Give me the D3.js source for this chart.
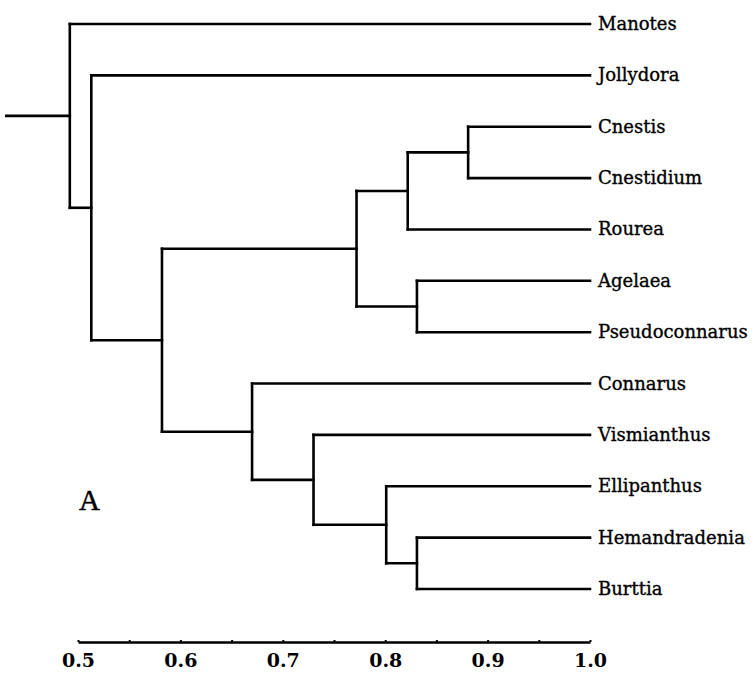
<!DOCTYPE html>
<html><head><meta charset="utf-8">
<script src="https://cdn.jsdelivr.net/npm/d3@7"></script>
<style>body{margin:0;background:#fff}svg{display:block}</style>
</head><body>
<script>
const leaves = ["Manotes","Jollydora","Cnestis","Cnestidium","Rourea","Agelaea","Pseudoconnarus","Connarus","Vismianthus","Ellipanthus","Hemandradenia","Burttia"];
const leafValue = 1.0;
// [node id, child 1, child 2, similarity level]
const merges = [
  ["H","Cnestis","Cnestidium",0.881],
  ["F","H","Rourea",0.822],
  ["G","Agelaea","Pseudoconnarus",0.831],
  ["D","F","G",0.772],
  ["K","Hemandradenia","Burttia",0.831],
  ["J","Ellipanthus","K",0.801],
  ["I","Vismianthus","J",0.730],
  ["E","Connarus","I",0.670],
  ["C","D","E",0.582],
  ["B","Jollydora","C",0.513],
  ["R","Manotes","B",0.492]
];
const rootStemValue = 0.43;
const tickValues = [0.5,0.55,0.6,0.65,0.7,0.75,0.8,0.85,0.9,0.95,1.0];
const tickLabels = ["0.5","","0.6","","0.7","","0.8","","0.9","","1.0"];
const panelLabel = "A";

const W = 756, H = 677;
const svg = d3.select("body").append("svg").attr("width", W).attr("height", H);
const x = d3.scaleLinear().domain([0.5, 1.0]).range([78, 590]);
const y = d3.scalePoint().domain(leaves).range([24, 589]);

// build tree
const nodes = {};
leaves.forEach(l => nodes[l] = {id: l, value: leafValue, children: null});
merges.forEach(([id, a, b, v]) => nodes[id] = {id, value: v, children: [nodes[a], nodes[b]]});
const root = d3.hierarchy(nodes["R"]);
root.eachAfter(n => {
  n.px = x(n.data.value);
  n.py = n.children ? (n.children[0].py + n.children[n.children.length-1].py) / 2 : y(n.data.id);
});

const g = svg.append("g");
const segs = [];
root.each(n => {
  if (n.children) {
    segs.push([n.px, n.children[0].py, n.px, n.children[1].py]);
    n.children.forEach(c => segs.push([n.px, c.py, c.px, c.py]));
  }
});
segs.push([x(rootStemValue), root.py, root.px, root.py]);

g.selectAll("line.branch").data(segs).join("line").attr("class","branch")
  .attr("x1", d => d[0]).attr("y1", d => d[1]).attr("x2", d => d[2]).attr("y2", d => d[3])
  .attr("stroke", "#000").attr("stroke-width", 2.6).attr("stroke-linecap", "square");

g.selectAll("text.leaf").data(root.leaves()).join("text").attr("class","leaf")
  .attr("x", d => d.px + 8).attr("y", d => d.py + 6)
  .attr("font-family", "'DejaVu Serif', serif").attr("font-size", 18)
  .attr("stroke", "#000").attr("stroke-width", 0.35)
  .text(d => d.data.id);

svg.append("text").attr("x", 79).attr("y", 510)
  .attr("font-family", "'Liberation Serif', serif").attr("font-size", 29)
  .attr("stroke", "#000").attr("stroke-width", 0.5)
  .text(panelLabel);

const axis = d3.axisBottom(x).tickValues(tickValues)
  .tickFormat((d, i) => tickLabels[i]).tickSizeInner(-2).tickSizeOuter(0).tickPadding(12);
const ax = svg.append("g").attr("transform", "translate(0,642)").call(axis);
ax.select(".domain").attr("stroke", "#000").attr("stroke-width", 2.6);
ax.selectAll(".tick line").attr("stroke", "#000").attr("stroke-width", 2);
ax.selectAll(".tick text").attr("font-family", "'DejaVu Serif', serif")
  .attr("font-size", 19).attr("font-weight", "bold").attr("fill", "#000");
</script>
</body></html>
